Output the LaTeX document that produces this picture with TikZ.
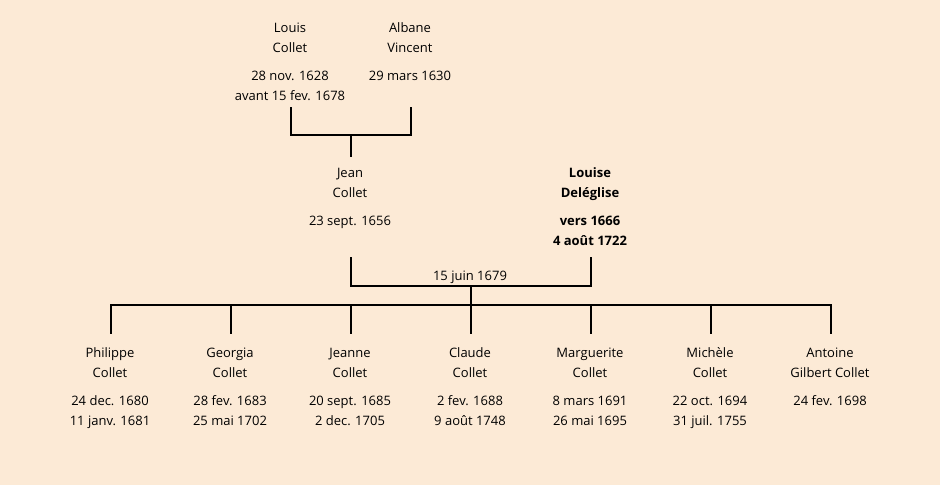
\documentclass[tikz,border=0pt]{standalone}
\usepackage{fontspec}
\setmainfont{Open Sans}
\definecolor{bgc}{RGB}{252,234,214}
\begin{document}
\begin{tikzpicture}[x=1pt,y=-1pt,
  person/.style={anchor=base,align=center,inner sep=0pt,font=\fontsize{13}{20}\selectfont},
  bperson/.style={person,font=\fontsize{13}{20}\selectfont\bfseries},
  link/.style={line width=2pt,line cap=rect},
  lbl/.style={anchor=base,inner sep=0pt,font=\fontsize{13}{20}\selectfont}]
\fill[bgc] (0,0) rectangle (940,485);
\useasboundingbox (0,0) rectangle (940,485);
% parents generation (anchor = baseline of last line)
\node[person] (louis) at (290,100) {Louis\\Collet\\[8pt]28 nov. 1628\\avant 15 fev. 1678};
\node[person] (albane) at (410,80) {Albane\\Vincent\\[8pt]29 mars 1630};
\node[person] (jean) at (350,225) {Jean\\Collet\\[8pt]23 sept. 1656};
\node[bperson] (louise) at (590,245) {Louise\\Deléglise\\[8pt]vers 1666\\4 août 1722};
\node[lbl] (mariage) at (470,280) {15 juin 1679};
% children
\node[person] (c1) at (110,425) {Philippe\\Collet\\[8pt]24 dec. 1680\\11 janv. 1681};
\node[person] (c2) at (230,425) {Georgia\\Collet\\[8pt]28 fev. 1683\\25 mai 1702};
\node[person] (c3) at (350,425) {Jeanne\\Collet\\[8pt]20 sept. 1685\\2 dec. 1705};
\node[person] (c4) at (470,425) {Claude\\Collet\\[8pt]2 fev. 1688\\9 août 1748};
\node[person] (c5) at (590,425) {Marguerite\\Collet\\[8pt]8 mars 1691\\26 mai 1695};
\node[person] (c6) at (710,425) {Michèle\\Collet\\[8pt]22 oct. 1694\\31 juil. 1755};
\node[person] (c7) at (830,405) {Antoine\\Gilbert Collet\\[8pt]24 fev. 1698};
% coordinates
\coordinate (lA) at (291,108);
\coordinate (lB) at (291,135);
\coordinate (aA) at (411,108);
\coordinate (aB) at (411,135);
\coordinate (pM) at (351,135);
\coordinate (jTop) at (351,156);
\coordinate (jA) at (351,258);
\coordinate (jB) at (351,286);
\coordinate (wA) at (591,258);
\coordinate (wB) at (591,286);
\coordinate (mM) at (471,286);
\coordinate (mBar) at (471,305);
\coordinate (barL) at (111,305);
\coordinate (barR) at (831,305);
% lines
\draw[link] (lA) -- (lB) -- (aB) -- (aA);
\draw[link] (pM) -- (jTop);
\draw[link] (jA) -- (jB) -- (wB) -- (wA);
\draw[link] (mM) -- (mBar);
\draw[link] (barL) -- (barR);
\foreach \x in {111,231,351,471,591,711,831}
  \draw[link] (\x,305) -- (\x,333);
\end{tikzpicture}
\end{document}
